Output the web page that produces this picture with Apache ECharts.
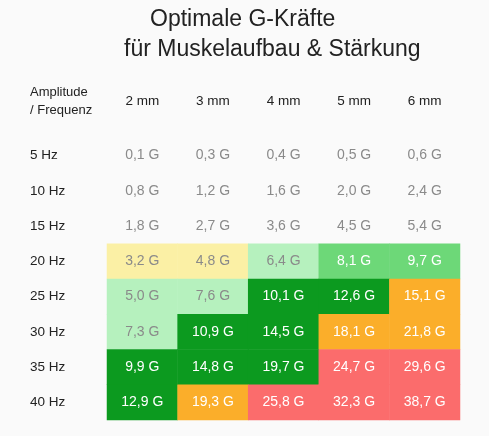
<!DOCTYPE html>
<html><head><meta charset="utf-8">
<script src="https://cdn.jsdelivr.net/npm/echarts@6/dist/echarts.min.js"></script>
<style>html,body{margin:0;padding:0;background:#fafafa}#c{width:489px;height:436px}</style>
</head><body><div id="c"></div>
<script>
const amplitudes = ['2 mm','3 mm','4 mm','5 mm','6 mm'];
const frequencies = ['5 Hz','10 Hz','15 Hz','20 Hz','25 Hz','30 Hz','35 Hz','40 Hz'];
const values = [
  [0.1,0.3,0.4,0.5,0.6],
  [0.8,1.2,1.6,2.0,2.4],
  [1.8,2.7,3.6,4.5,5.4],
  [3.2,4.8,6.4,8.1,9.7],
  [5.0,7.6,10.1,12.6,15.1],
  [7.3,10.9,14.5,18.1,21.8],
  [9.9,14.8,19.7,24.7,29.6],
  [12.9,19.3,25.8,32.3,38.7]
];
// class per cell: n=none, y=yellow, l=light green, m=medium green, d=dark green, o=orange, r=red
const classes = [
  ['n','n','n','n','n'],
  ['n','n','n','n','n'],
  ['n','n','n','n','n'],
  ['y','y','l','m','m'],
  ['l','l','d','d','o'],
  ['l','d','d','o','o'],
  ['d','d','d','r','r'],
  ['d','o','r','r','r']
];
const fill = {n:'rgba(250,250,250,0)',y:'#fbf0a5',l:'#b6f1be',m:'#6dd878',d:'#0c9a1f',o:'#fbae2a',r:'#fb6c6c'};
const textCol = {n:'#8a8a8a',y:'#8a8a8a',l:'#8a8a8a',m:'#ffffff',d:'#ffffff',o:'#ffffff',r:'#ffffff'};
const data = [];
values.forEach((row,i)=>row.forEach((v,j)=>{
  const c = classes[i][j];
  data.push({value:[j,i,v], itemStyle:{color:fill[c]}, label:{color:textCol[c]}});
}));
const chart = echarts.init(document.getElementById('c'));
const font = 'Liberation Sans, Helvetica, Arial, sans-serif';
chart.setOption({
  animation:false,
  backgroundColor:'#fafafa',
  graphic:[
    {type:'text',left:150,top:8,style:{text:'Optimale G-Kräfte',font:'23px '+font,fill:'#222'}},
    {type:'text',left:124,top:38,style:{text:'für Muskelaufbau & Stärkung',font:'23px '+font,fill:'#222'}},
    {type:'text',left:30,top:83,style:{text:'Amplitude\n/ Frequenz',font:'13px '+font,fill:'#222',lineHeight:18}}
  ],
  grid:{left:107,right:29,top:138,bottom:16},
  xAxis:{type:'category',data:amplitudes,position:'top',axisLine:{show:false},axisTick:{show:false},
    axisLabel:{margin:30,fontSize:13.5,color:'#222',fontFamily:font},splitLine:{show:false},splitArea:{show:false}},
  yAxis:{type:'category',data:frequencies,inverse:true,axisLine:{show:false},axisTick:{show:false},
    axisLabel:{align:'left',margin:77,fontSize:13.5,color:'#222',fontFamily:font},splitLine:{show:false},splitArea:{show:false}},
  series:[{type:'heatmap',data:data,
    label:{show:true,fontSize:14,fontFamily:font,formatter:p=>p.value[2].toFixed(1).replace('.',',')+' G'},
    itemStyle:{borderWidth:0},emphasis:{disabled:true}}]
});
</script></body></html>
